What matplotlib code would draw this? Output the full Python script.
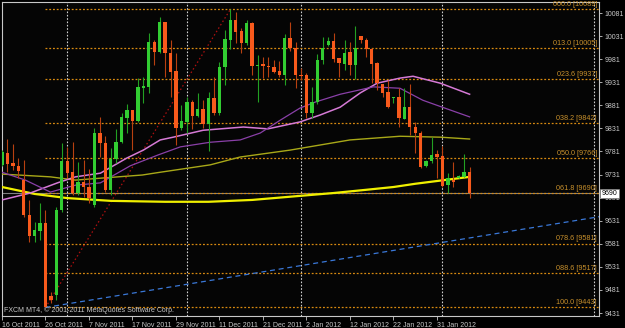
import numpy as np
import matplotlib.pyplot as plt

# Daily candles (bar 0 = 16 Oct 2011)
opens = [9752, 9778, 9756, 9750, 9719, 9643, 9598, 9609, 9626, 9468,
         9470, 9654, 9760, 9736, 9691, 9715, 9704, 9665, 9821, 9799,
         9698, 9765, 9802, 9854, 9871, 9847, 9919, 9921, 10018, 9997,
         10062, 9994, 9955, 9832, 9845, 9888, 9858, 9873, 9841, 9897,
         9864, 9964, 10023, 10066, 10042, 10016, 10059, 9966, 9970, 9966,
         9964, 9955, 9947, 10027, 10005, 9947, 9947, 9864, 9888, 9979,
         10012, 10020, 9983, 9970, 9996, 9968, 10031, 10022, 10003, 9973,
         9927, 9910, 9897, 9899, 9851, 9877, 9834, 9821, 9749, 9760,
         9775, 9771, 9708, 9719, 9724, 9726, 9736]
highs = [9784, 9808, 9797, 9767, 9763, 9676, 9628, 9669, 9654, 9477,
         9661, 9799, 9791, 9801, 9758, 9762, 9743, 9832, 9856, 9815,
         9789, 9830, 9864, 9884, 9871, 9940, 9942, 10038, 10023, 10072,
         10062, 10022, 9994, 9882, 9899, 9892, 9908, 9892, 9910, 9942,
         9975, 10044, 10089, 10083, 10048, 10066, 10062, 9990, 9985, 9985,
         9979, 9977, 10035, 10061, 10018, 9962, 9951, 9921, 9992, 10029,
         10029, 10038, 9983, 10022, 10018, 10053, 10031, 10027, 10005, 9975,
         9927, 9936, 9900, 9918, 9918, 9927, 9845, 9825, 9762, 9812,
         9784, 9793, 9734, 9758, 9730, 9775, 9747]
lows = [9750, 9737, 9741, 9724, 9639, 9585, 9585, 9589, 9443, 9453,
        9459, 9650, 9724, 9687, 9687, 9682, 9669, 9661, 9769, 9693,
        9687, 9756, 9799, 9821, 9784, 9845, 9886, 9908, 9968, 9994,
        9942, 9899, 9795, 9827, 9821, 9830, 9856, 9832, 9782, 9860,
        9860, 9925, 10003, 10016, 9994, 10012, 9947, 9888, 9940, 9942,
        9951, 9942, 9925, 9999, 9918, 9936, 9853, 9853, 9884, 9970,
        10010, 9975, 9942, 9957, 9947, 9938, 10016, 9986, 9929, 9914,
        9899, 9875, 9886, 9834, 9851, 9817, 9778, 9745, 9747, 9756,
        9724, 9704, 9691, 9704, 9723, 9725, 9680]
closes = [9780, 9754, 9750, 9739, 9643, 9598, 9611, 9626, 9444, 9459,
          9654, 9760, 9734, 9691, 9715, 9704, 9680, 9821, 9799, 9698,
          9765, 9802, 9856, 9871, 9847, 9921, 9923, 10018, 9997, 10062,
          9994, 9953, 9832, 9847, 9888, 9858, 9873, 9841, 9897, 9864,
          9964, 10025, 10066, 10040, 10016, 10059, 9966, 9968, 9966, 9964,
          9953, 9947, 10027, 10005, 9947, 9945, 9864, 9888, 9979, 10005,
          10020, 9981, 9973, 9994, 9968, 10005, 10022, 10003, 9971, 9929,
          9908, 9877, 9899, 9854, 9877, 9834, 9821, 9747, 9760, 9773,
          9769, 9706, 9724, 9715, 9728, 9736, 9690]

# Moving averages, read at a few bars
ma_fast_bars = [0, 4.3, 8.9, 13.5, 18.1, 23.6, 28.6, 32.8, 38.3, 43.8,
                47.5, 51.2, 54.8, 57.6, 62.2, 68.3, 73.2, 77.4, 82.4, 86]
ma_fast = [9736, 9719, 9693, 9708, 9713, 9750, 9773, 9791, 9801, 9806,
           9821, 9849, 9875, 9888, 9905, 9921, 9918, 9892, 9871, 9856]
ma_mid_bars = [0, 5.2, 10.2, 13.5, 18.1, 23, 26, 29.1, 31.5, 37, 44.4,
               48.9, 54.8, 58.5, 62.2, 65.9, 69, 73.2, 75.6, 80.6, 86]
ma_mid = [9676, 9691, 9713, 9726, 9734, 9767, 9784, 9806, 9812, 9827, 9834,
          9830, 9845, 9860, 9877, 9908, 9929, 9940, 9944, 9929, 9905]
ma_slow_bars = [0, 8.9, 13.5, 25.8, 29.1, 38.3, 43.8, 53, 64, 73.2, 80.6, 86]
ma_slow = [9732, 9726, 9719, 9730, 9736, 9752, 9769, 9784, 9806, 9814, 9812, 9808]
ma_long_bars = [0, 6, 12, 20, 30, 38, 46, 55, 61, 67, 72, 76, 80, 86]
ma_long = [9704, 9689, 9680, 9674, 9672, 9672, 9676, 9685, 9691, 9698,
           9704, 9711, 9717, 9726]

# Fibonacci retracement
fib_ratios = ['000.0', '013.0', '023.6', '038.2', '050.0', '061.8', '078.6', '088.6', '100.0']
fib_levels = [10089, 10005, 9937, 9842, 9766, 9690, 9581, 9517, 9443]

date_bars = [0, 8, 16, 24, 32, 40, 48, 56, 64, 72, 80]
date_labels = ['16 Oct 2011', '26 Oct 2011', '7 Nov 2011', '17 Nov 2011', '29 Nov 2011',
               '11 Dec 2011', '21 Dec 2011', '2 Jan 2012', '12 Jan 2012', '22 Jan 2012',
               '31 Jan 2012']
separator_bars = [12, 34, 55, 81, 108.9]
price_ticks = list(range(9431, 10082, 50))
last_price = 9690

fg = '#c8c8c8'
plt.rcParams['font.family'] = ['Liberation Sans', 'DejaVu Sans']

fig = plt.figure(figsize=(6.25, 3.28), dpi=100, facecolor='black')
ax = fig.add_axes([2 / 625, 12 / 328, 597 / 625, 314 / 328], facecolor='#050505')

x = np.arange(len(opens))
o, h, l, c = map(np.array, (opens, highs, lows, closes))
up = c >= o

# bid line and period separators
ax.axhline(last_price, color='#808080', lw=0.8, zorder=1)
for b in separator_bars:
    ax.axvline(b, color='#d0d0d0', lw=0.8, ls=(0, (1.5, 1.5)), zorder=1)

# fibo levels and trend lines
for r, lv in zip(fib_ratios, fib_levels):
    ax.hlines(lv, 8, 112, color='#d88a10', lw=0.9, ls=(0, (1.5, 1.5)), zorder=2)
    ax.annotate(f'{r} [{lv}]', xy=(0.9966, lv), xycoords=('axes fraction', 'data'),
                xytext=(0, 1), textcoords='offset points', ha='right', va='bottom',
                color='#c8902c', fontsize=5.2)
ax.plot([8, 42], [fib_levels[-1], fib_levels[0]], color='#b01010', lw=0.9,
        ls=(0, (1.2, 2)), zorder=2)
ax.plot([8, 110], [9443, 9640], color='#3a78d8', lw=0.9, ls=(0, (4, 3)), zorder=2)

# moving averages
ax.plot(ma_long_bars, ma_long, color='#f0f000', lw=1.6, zorder=3)
ax.plot(ma_slow_bars, ma_slow, color='#a8a818', lw=1.0, zorder=3)
ax.plot(ma_mid_bars, ma_mid, color='#d67ad6', lw=1.1, zorder=3)
ax.plot(ma_fast_bars, ma_fast, color='#8a40a8', lw=0.9, zorder=3)

# candles
ax.vlines(x[up], l[up], h[up], color='#22a022', lw=0.8, zorder=4)
ax.vlines(x[~up], l[~up], h[~up], color='#b84010', lw=0.8, zorder=4)
body_lo = np.minimum(o, c)
body_h = np.maximum(np.abs(c - o), 2.2)
ax.bar(x[up], body_h[up], 0.62, body_lo[up], color='#32cd32', zorder=5)
ax.bar(x[~up], body_h[~up], 0.62, body_lo[~up], color='#f85a1c', zorder=5)

ax.set_xlim(0.05, 109.8)
ax.set_ylim(9424.5, 10104.9)

for s in ax.spines.values():
    s.set_color(fg)
    s.set_linewidth(0.8)

ax.yaxis.tick_right()
ax.set_yticks(price_ticks)
ax.set_yticklabels([str(p) for p in price_ticks])
ax.tick_params(axis='y', colors=fg, labelsize=5, length=2, width=0.6, pad=2)
ax.set_xticks(date_bars)
ax.set_xticklabels(date_labels)
ax.tick_params(axis='x', colors=fg, labelsize=5, length=3, width=0.6, pad=1)
for lbl in ax.get_xticklabels():
    lbl.set_ha('left')

# current price box, drawn over the 9681 tick label as in MT4
ax.annotate(str(last_price), xy=(1.004, last_price), xycoords=('axes fraction', 'data'),
            ha='left', va='center', fontsize=5, color='black', zorder=10,
            bbox=dict(boxstyle='square,pad=0.2', fc='white', ec='#808080', lw=0.5))

ax.text(0.003, 0.006, 'FXCM MT4, \u00a9 2001-2011 MetaQuotes Software Corp.',
        transform=ax.transAxes, color=fg, fontsize=5, ha='left', va='bottom')

fig.savefig('out.png', dpi=100, facecolor='black')
